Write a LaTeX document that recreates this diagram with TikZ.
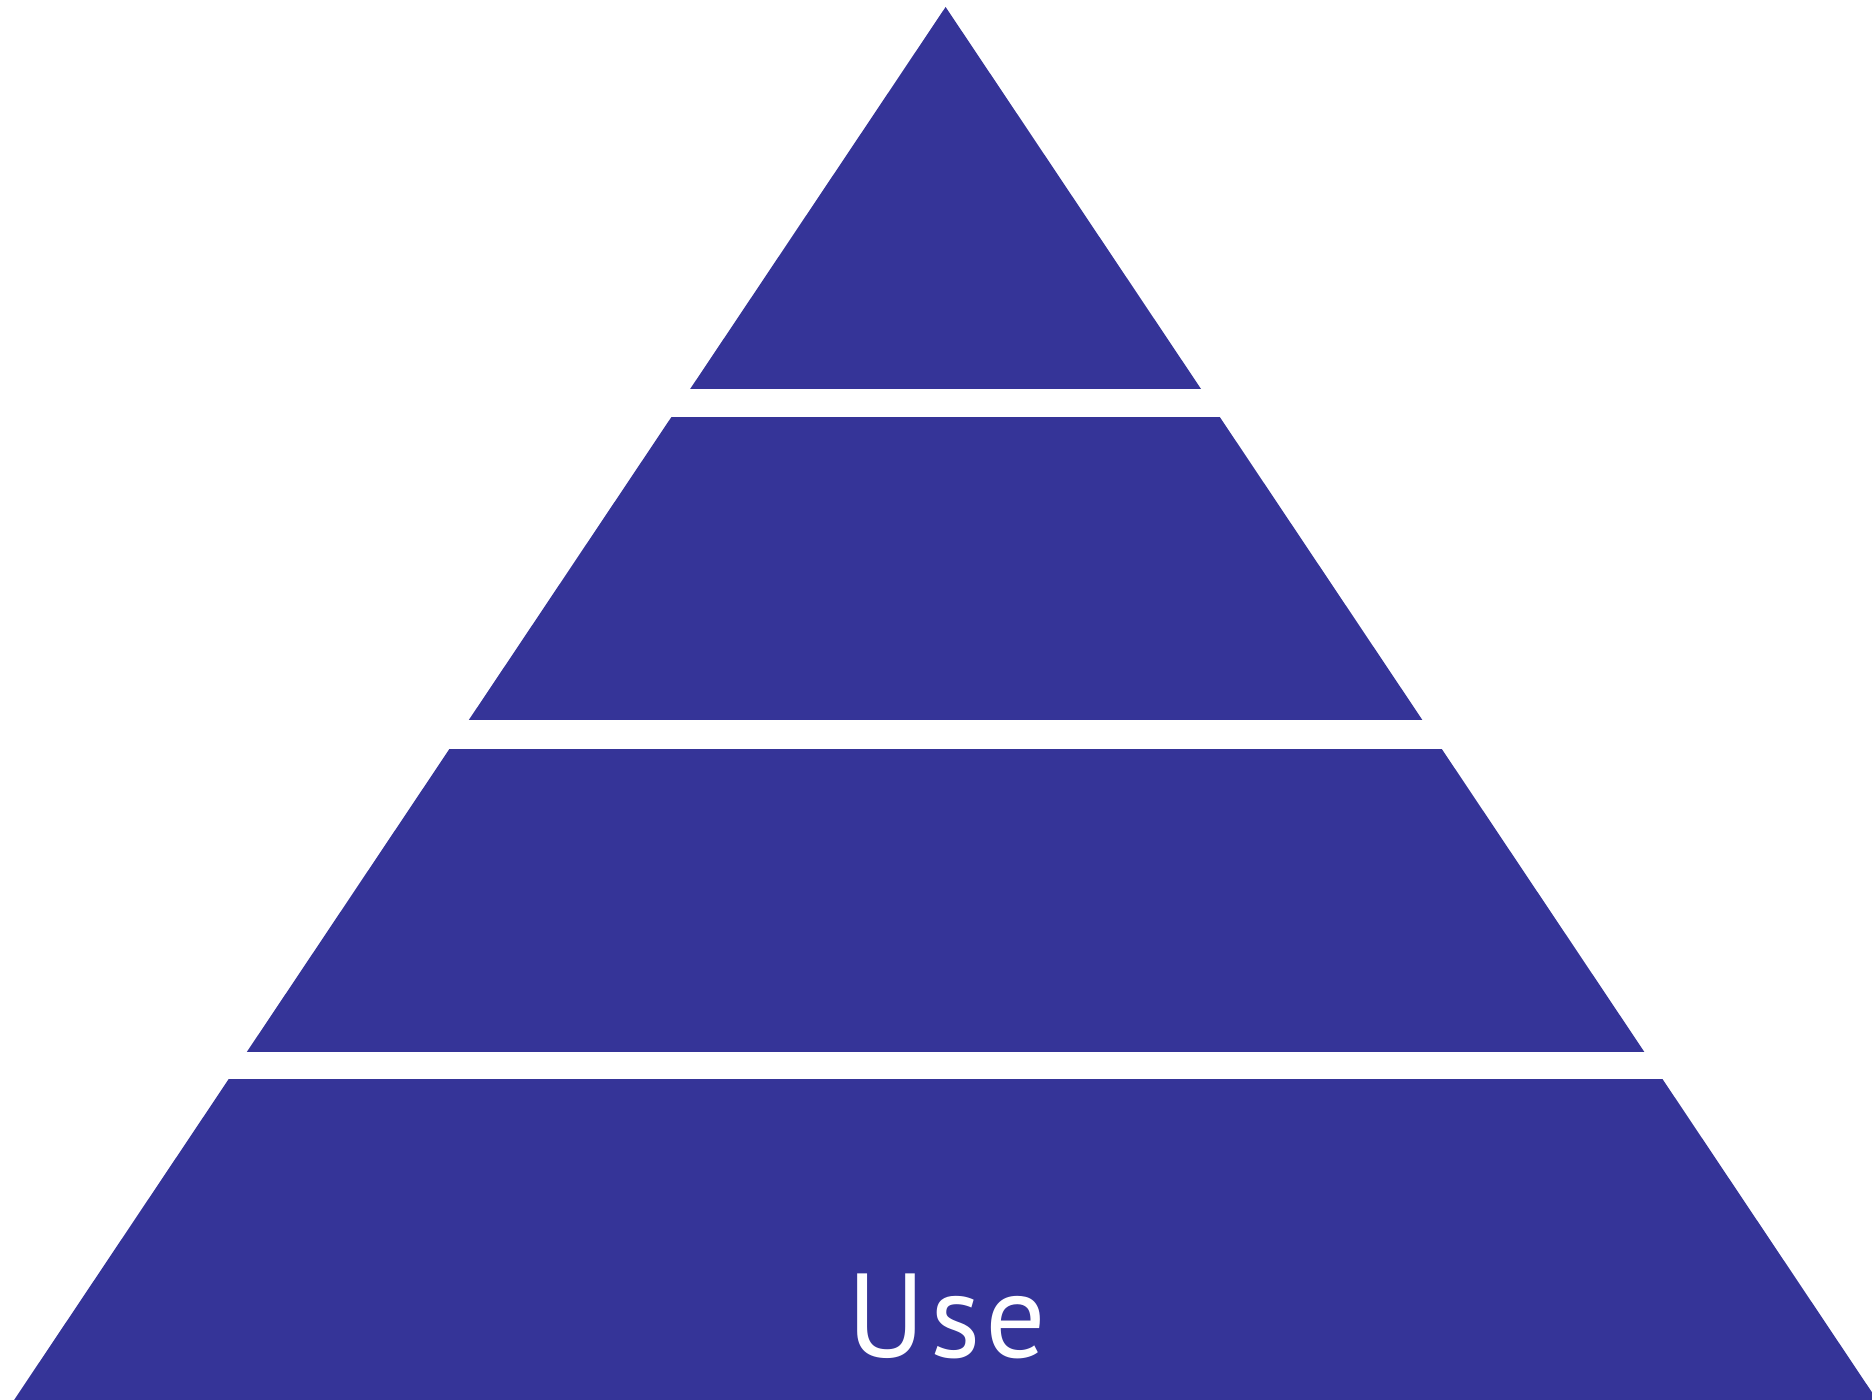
\documentclass[tikz,border=0pt]{standalone}
\usepackage{fontspec}
\setsansfont{PT Sans}
\usetikzlibrary{calc}
\definecolor{tier}{HTML}{353498}
\tikzset{
  tierfill/.style={fill=tier,draw=none},
  tierlabel/.style={font=\sffamily\fontsize{34}{34}\selectfont,text=white,inner sep=0pt,anchor=base}}

\begin{document}
\begin{tikzpicture}
\useasboundingbox (0,0) rectangle (18.72,14);
\coordinate (apex) at (9.456,13.93);
\coordinate (bl) at ($(apex)+(-9.315,-13.93)$);
\coordinate (br) at ($(apex)+(9.315,-13.93)$);
\begin{scope}
\clip (apex) -- (bl) -- (br) -- cycle;
% four tiers, white gaps between them
\foreach \lo/\hi in {10.108/14,6.80/9.833,3.482/6.514,0/3.207}
  \fill[tierfill] (0,\lo) rectangle (18.72,\hi);
\end{scope}
\node[tierlabel] (use) at (9.47,0.42) {\addfontfeature{LetterSpace=4}Use};
\end{tikzpicture}
\end{document}
